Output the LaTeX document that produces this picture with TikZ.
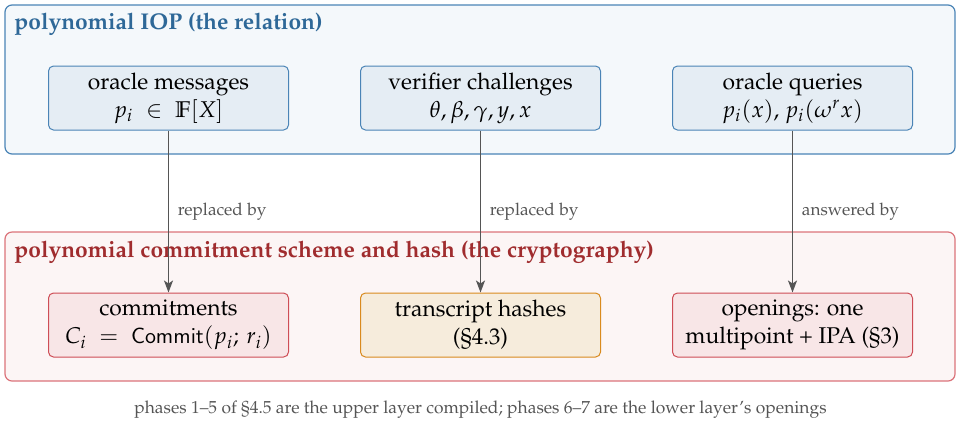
\documentclass[tikz,border=0pt]{standalone}
\usepackage[T1]{fontenc}
\usepackage{mathpazo}
\usepackage{amsmath,amssymb}
\usetikzlibrary{positioning,arrows.meta}
\definecolor{iopline}{HTML}{4A84B6}
\definecolor{iopfill}{HTML}{F4F8FB}
\definecolor{ioptext}{HTML}{2E6898}
\definecolor{iopbox}{HTML}{E5EDF4}
\definecolor{pcsline}{HTML}{DB737A}
\definecolor{pcsfill}{HTML}{FCF5F5}
\definecolor{pcstext}{HTML}{A02C2E}
\definecolor{pcsbox}{HTML}{F8E6E7}
\definecolor{pcsboxline}{HTML}{CE4D56}
\definecolor{hashbox}{HTML}{F6ECDC}
\definecolor{hashline}{HTML}{D98A1E}
\definecolor{linkgray}{HTML}{555555}
\tikzset{
  layer/.style 2 args={draw=#1, fill=#2, rounded corners=3.5pt, line width=0.6pt},
  layertitle/.style={anchor=base west, font=\fontsize{11.4}{14}\selectfont\bfseries, inner sep=0pt},
  box/.style 2 args={draw=#1, fill=#2, rounded corners=2.5pt, line width=0.5pt,
    minimum width=120pt, minimum height=32pt, align=center, font=\fontsize{11.4}{14}\selectfont, inner sep=2pt},
  link/.style={draw=linkgray, line width=0.75pt, -{Stealth[length=6pt, width=4.5pt, inset=1.5pt]}},
  tag/.style={right=1pt, font=\fontsize{8.6}{10}\selectfont, text=linkgray}
}
\begin{document}
\begin{tikzpicture}[x=0.5pt, y=-0.5pt]
  \useasboundingbox (0,0) rectangle (961,436);

  \draw[layer={iopline}{iopfill}] (5,5) rectangle (955,154);
  \node[layertitle, text=ioptext] (ioptitle) at (14,29) {polynomial IOP (the relation)};

  \node[box={iopline}{iopbox}] (msg) at (168.5,98) {oracle messages\\ $p_i \;\in\; \mathbb{F}[X]$};
  \node[box={iopline}{iopbox}] (chal) [right=35.5pt of msg] {verifier challenges\\ $\theta,\beta,\gamma,y,x$};
  \node[box={iopline}{iopbox}] (query) [right=35.5pt of chal] {oracle queries\\ $p_i(x)$, $p_i(\omega^r x)$};

  \draw[layer={pcsline}{pcsfill}] (5,232) rectangle (955,381);
  \node[layertitle, text=pcstext] (pcstitle) at (14,257) {polynomial commitment scheme and hash (the cryptography)};

  \node[box={pcsboxline}{pcsbox}] (commit) [below=81pt of msg] {commitments\\ $C_i \;=\; \mathsf{Commit}(p_i;\, r_i)$};
  \node[box={hashline}{hashbox}] (hash) [below=81pt of chal] {transcript hashes\\ (\S4.3)};
  \node[box={pcsboxline}{pcsbox}] (open) [below=81pt of query] {openings: one\\ multipoint + IPA (\S3)};

  \draw[link] (msg) -- node[tag] {replaced by} (commit);
  \draw[link] (chal) -- node[tag] {replaced by} (hash);
  \draw[link] (query) -- node[tag] {answered by} (open);

  \node[font=\fontsize{8.7}{10}\selectfont, text=linkgray] (note) at (480.5,410) {phases 1--5 of \S4.5 are the upper layer compiled; phases 6--7 are the lower layer's openings};
\end{tikzpicture}
\end{document}
